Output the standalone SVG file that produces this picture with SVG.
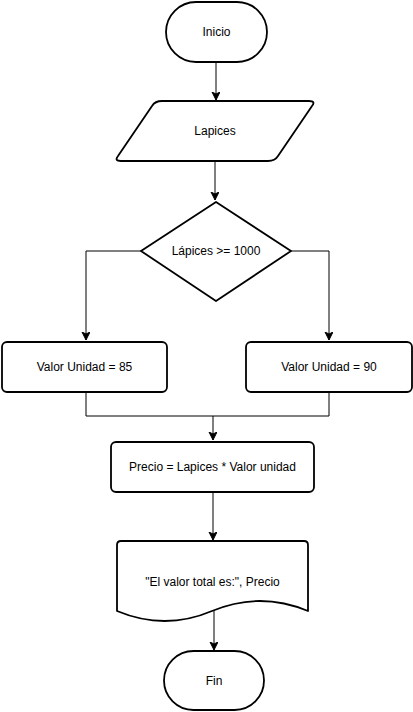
<svg xmlns="http://www.w3.org/2000/svg" width="413" height="712" viewBox="0 0 413 712">
<defs>
<style>
.s{fill:#fff;stroke:#000;stroke-width:1.8;stroke-linejoin:round}
.c{fill:none;stroke:#000;stroke-width:1}
text{font-family:"Liberation Sans",Arial,sans-serif;font-size:12px;fill:#000;text-anchor:middle;dominant-baseline:central}
</style>
<marker id="a" markerWidth="10" markerHeight="10" refX="8" refY="4" orient="auto" markerUnits="userSpaceOnUse">
<path d="M0,0 L8,4 L0,8 L2,4 Z" fill="#000" stroke="#000" stroke-width="1"/>
</marker>
</defs>
<rect width="413" height="712" fill="#fff"/>
<g id="connectors">
<path class="c" d="M216,62 V100" marker-end="url(#a)"/>
<path class="c" d="M215,162 V200" marker-end="url(#a)"/>
<path class="c" d="M141,251 H86 V340" marker-end="url(#a)"/>
<path class="c" d="M291,251 H329 V340" marker-end="url(#a)"/>
<path class="c" d="M86,392 V416 H329 V392"/>
<path class="c" d="M213,416 V440" marker-end="url(#a)"/>
<path class="c" d="M213,492 V540" marker-end="url(#a)"/>
<path class="c" d="M214,611 V650" marker-end="url(#a)"/>
</g>
<g id="inicio">
<rect class="s" x="166" y="2" width="101" height="60" rx="30"/>
<text x="216.5" y="32">Inicio</text>
</g>
<g id="lapices">
<path class="s" d="M162,101 H309 Q316,101 312,106 L278,156 Q275,161 268,161 H121 Q114,161 118,156 L152,106 Q155,101 162,101 Z"/>
<text x="215" y="131">Lapices</text>
</g>
<g id="decision">
<path class="s" d="M216,202 L291,251 L216,301 L141,251 Z"/>
<text x="216" y="251">Lápices &gt;= 1000</text>
</g>
<g id="valor85">
<rect class="s" x="2" y="342" width="165" height="50" rx="5"/>
<text x="84.5" y="367">Valor Unidad = 85</text>
</g>
<g id="valor90">
<rect class="s" x="246" y="342" width="166" height="50" rx="5"/>
<text x="329" y="367">Valor Unidad = 90</text>
</g>
<g id="precio">
<rect class="s" x="111" y="442" width="203" height="50" rx="5"/>
<text x="212.5" y="467">Precio = Lapices * Valor unidad</text>
</g>
<g id="salida">
<path class="s" d="M121,541 H304 Q308,541 308,545 V611 Q260,591 212,611 Q165,631 117,611 V545 Q117,541 121,541 Z"/>
<text x="212.5" y="582">"El valor total es:", Precio</text>
</g>
<g id="fin">
<rect class="s" x="164" y="651" width="100" height="59" rx="29.5"/>
<text x="214" y="681">Fin</text>
</g>
</svg>
